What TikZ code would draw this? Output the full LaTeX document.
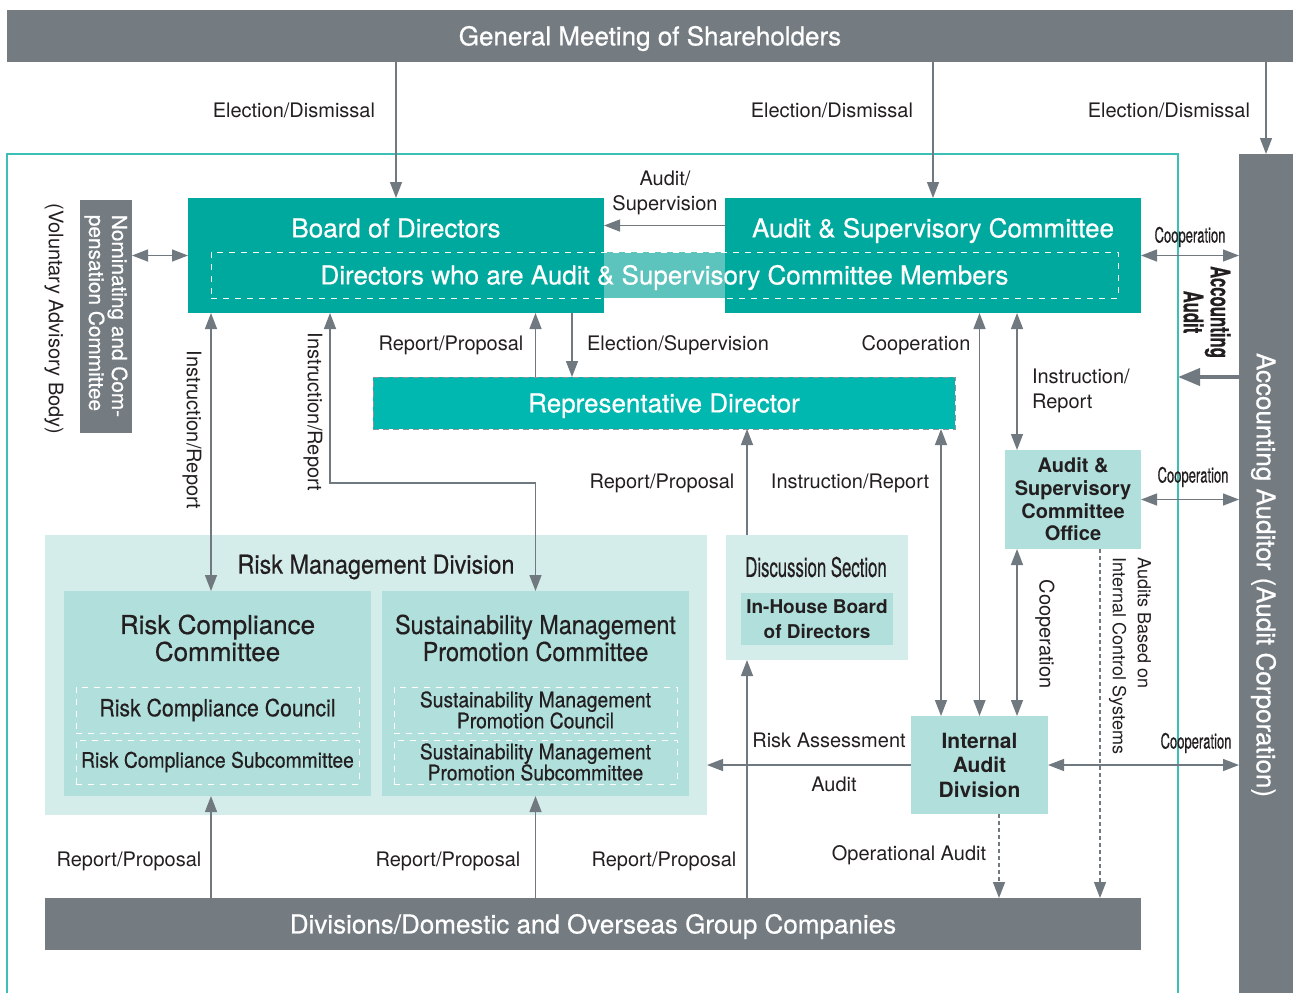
\documentclass[tikz,border=0pt]{standalone}
\usepackage{fontspec}
\setmainfont{TeX Gyre Heros}
\newfontfamily\medfont[FakeBold=0.6]{TeX Gyre Heros}
\newfontfamily\cond[FakeStretch=0.62,FakeBold=0.4]{TeX Gyre Heros}
\newfontfamily\semicond[FakeStretch=0.9,FakeBold=0.5]{TeX Gyre Heros}
\usetikzlibrary{arrows.meta}

\definecolor{boxgray}{RGB}{116,124,130}
\definecolor{linegray}{RGB}{112,121,128}
\definecolor{teal1}{RGB}{0,169,157}
\definecolor{teal2}{RGB}{0,184,176}
\definecolor{teal3}{RGB}{92,196,188}
\definecolor{mint}{RGB}{176,223,220}
\definecolor{palemint}{RGB}{213,237,234}
\definecolor{rim}{RGB}{60,191,181}
\definecolor{ink}{RGB}{35,31,32}

\tikzset{
  box/.style={inner sep=0pt, outer sep=0pt, align=center},
  onerow/.style={text height=9.4pt, text depth=0pt},
  graybox/.style={box, onerow, fill=boxgray, text=white, font=\medfont\fontsize{13}{15.6}\selectfont},
  tealbox/.style={box, fill=teal1},
  repbox/.style={box, onerow, fill=teal2, draw=linegray!80, densely dashed, line width=0.4pt, text=white, font=\medfont\fontsize{13}{15.6}\selectfont},
  mintbox/.style={box, fill=mint, text=ink},
  palebox/.style={box, fill=palemint},
  subbox/.style={box, draw=white, dashed, line width=0.5pt, text=ink, font=\semicond\fontsize{10.7}{10.5}\selectfont},
  whitedash/.style={box, draw=white, dashed, line width=0.5pt, text=white, font=\medfont\fontsize{13}{15.6}\selectfont},
  whitetitle/.style={box, onerow, text=white, font=\medfont\fontsize{13}{15.6}\selectfont},
  rimbox/.style={box, draw=rim, line width=0.75pt},
  lbl/.style={box, text=ink, font=\fontsize{10}{12.5}\selectfont},
  coop/.style={box, text=ink, font=\cond\fontsize{10.5}{12}\selectfont},
  arr/.style={draw=linegray, line width=0.7pt, -{Triangle[length=8pt,width=6pt]}},
  dblarr/.style={arr, {Triangle[length=8pt,width=6pt]}-{Triangle[length=8pt,width=6pt]}},
  dasharr/.style={arr, dash pattern=on 2pt off 1.5pt},
  thickarr/.style={draw=linegray, line width=2pt, -{Triangle[length=11pt,width=8.5pt]}},
}

\begin{document}
\begin{tikzpicture}[x=0.5pt,y=-0.5pt]
\useasboundingbox (0,0) rectangle (1293,992);

\node[rimbox, minimum width=585.5pt, minimum height=425.5pt] (frame) at (592.5,579.5) {};

\node[graybox, minimum width=643pt, minimum height=26pt] (gm) at (650,36) {General Meeting of Shareholders};
\node[graybox, minimum width=27pt, minimum height=425.5pt] (aa) at (1266,579.5) {};
\node[whitetitle, rotate=-90] (aatext) at (1266,575) {Accounting Auditor (Audit Corporation)};

\node[tealbox, minimum width=208pt, minimum height=57.5pt] (board) at (396,255.5) {};
\node[tealbox, minimum width=208pt, minimum height=57.5pt] (asc) at (933,255.5) {};
\node[whitetitle] (boardtext) at (396,228) {Board of Directors};
\node[whitetitle] (asctext) at (933,228) {Audit \& Supervisory Committee};
\fill[teal3] (board.east |- 0,252) rectangle (asc.west |- 0,298);
\node[whitedash, onerow, minimum width=453.5pt, minimum height=23pt] (members) at (664.5,275) {Directors who are Audit \& Supervisory Committee Members};

\node[graybox, minimum width=26pt, minimum height=116.5pt] (nomc) at (106,316.5) {};
\node[box, rotate=-90, align=left, text=white, font=\medfont\fontsize{10.4}{11.5}\selectfont] (nomtext) at (106,316) {Nominating and Com-\\pensation Committee};
\node[lbl, rotate=-90] (advisory) at (54,319) {(Voluntary Advisory Body)};

\node[repbox, minimum width=291pt, minimum height=26pt] (repdir) at (664,403) {Representative Director};

\node[mintbox, minimum width=68pt, minimum height=49.5pt, font=\bfseries\fontsize{10}{11.3}\selectfont] (office) at (1073,499.5) {Audit \&\\Supervisory\\Committee\\Office};

\node[palebox, minimum width=331pt, minimum height=140pt] (rmd) at (376,675) {};
\node[box, text=ink, font=\semicond\fontsize{13}{15}\selectfont] (rmdtext) at (376,567) {Risk Management Division};
\node[mintbox, minimum width=153.5pt, minimum height=102.5pt] (rcc) at (217.5,693.5) {};
\node[box, text=ink, font=\medfont\fontsize{13}{13.5}\selectfont] (rcctext) at (217.5,638) {Risk Compliance\\Committee};
\node[subbox, minimum width=141.5pt, minimum height=23pt, font=\semicond\fontsize{11.8}{12}\selectfont] (rcouncil) at (217.5,710) {Risk Compliance Council};
\node[subbox, minimum width=141.5pt, minimum height=22pt] (rsub) at (217.5,762) {Risk Compliance Subcommittee};
\node[mintbox, minimum width=153.5pt, minimum height=102.5pt] (smpc) at (535.5,693.5) {};
\node[box, text=ink, font=\semicond\fontsize{13}{13.5}\selectfont] (smpctext) at (535.5,638) {Sustainability Management\\Promotion Committee};
\node[subbox, minimum width=141.5pt, minimum height=23pt] (scouncil) at (535.5,710) {Sustainability Management\\Promotion Council};
\node[subbox, minimum width=141.5pt, minimum height=22pt] (ssub) at (535.5,762) {Sustainability Management\\Promotion Subcommittee};

\node[palebox, minimum width=91pt, minimum height=62.5pt] (disc) at (817,597.5) {};
\node[box, text=ink, font=\cond\fontsize{13.5}{15}\selectfont] (disctext) at (816,567) {Discussion Section};
\node[mintbox, minimum width=76pt, minimum height=26pt, font=\bfseries\fontsize{9.5}{12.5}\selectfont] (inhouse) at (817,619) {In-House Board\\of Directors};

\node[mintbox, minimum width=68.5pt, minimum height=49pt, font=\bfseries\fontsize{10.5}{12.25}\selectfont] (iad) at (979.5,765) {Internal\\Audit\\Division};

\node[graybox, minimum width=548pt, minimum height=26pt] (div) at (593,924) {Divisions/Domestic and Overseas Group Companies};

\draw[arr] (gm.south -| board.north) -- (board.north);
\draw[arr] (gm.south -| asc.north) -- (asc.north);
\draw[arr] (gm.south -| aa.north) -- (aa.north);
\node[lbl, anchor=east] (ed1) at (375,110) {Election/Dismissal};
\node[lbl, anchor=east] (ed2) at (913,110) {Election/Dismissal};
\node[lbl, anchor=east] (ed3) at (1250,110) {Election/Dismissal};

\draw[arr] ([yshift=15pt]asc.west) -- ([yshift=15pt]board.east);
\node[lbl] (audsup) at (665,193) {Audit/\\Supervision};
\draw[dblarr] (nomc.east |- board.west) -- (board.west);
\draw[dblarr] (asc.east) -- (asc.east -| aa.west);
\node[coop] (coop1) at (1190,237) {Cooperation};
\draw[thickarr] (aa.west |- repdir.north) -- (frame.east |- repdir.north);
\node[box, rotate=-90, text=ink, font=\cond\bfseries\fontsize{13.5}{13.5}\selectfont] (accaudit) at (1207,312) {Accounting\\Audit};

\draw[arr] (repdir.north -| smpc.north) -- (board.south -| smpc.north);
\draw[arr] (board.south -| 572,0) -- (repdir.north -| 572,0);
\node[lbl] (rp1) at (451,345) {Report/Proposal};
\node[lbl] (elecsup) at (678,345) {Election/Supervision};

\draw[dblarr] (board.south -| 211,0) -- (rcc.north -| 211,0);
\node[lbl, rotate=-90] (instrepv1) at (192,430) {Instruction/Report};
\draw[dblarr] (board.south -| 330,0) -- (330,483) -| (smpc.north);
\node[lbl, rotate=-90] (instrepv2) at (313,412) {Instruction/Report};

\draw[dblarr] (asc.south -| iad.north) -- (iad.north);
\node[lbl] (coop2) at (916,345) {Cooperation};
\draw[dblarr] (asc.south -| 1017,0) -- (office.north -| 1017,0);
\node[lbl, anchor=west, align=left] (instrep1) at (1032,391) {Instruction/\\Report};
\draw[dblarr] (office.south -| 1017,0) -- (iad.north -| 1017,0);
\node[lbl, rotate=-90] (coopv) at (1045,634) {Cooperation};
\draw[dblarr] (office.east) -- (office.east -| aa.west);
\node[coop] (coop3) at (1193,477) {Cooperation};
\draw[dasharr] (office.south -| 1100,0) -- (div.north -| 1100,0);
\node[lbl, rotate=-90, align=left, font=\fontsize{9}{12.5}\selectfont] (icaudit) at (1130,656) {Audits Based on\\Internal Control Systems};

\draw[dblarr] (repdir.south -| 941,0) -- (iad.north -| 941,0);
\node[lbl] (instrep2) at (850,483) {Instruction/Report};
\draw[arr] (disc.north -| 747,0) -- (repdir.south -| 747,0);
\node[lbl] (rp2) at (662,483) {Report/Proposal};

\draw[arr] (iad.west) -- (iad.west -| rmd.east);
\node[lbl] (riskass) at (829,740) {Risk Assessment};
\node[lbl] (auditlbl) at (834,784) {Audit};
\draw[dblarr] (iad.east) -- (iad.east -| aa.west);
\node[coop] (coop4) at (1196,743) {Cooperation};
\draw[dasharr] (iad.south -| 999,0) -- (div.north -| 999,0);
\node[lbl] (opaudit) at (909,855) {Operational Audit};

\draw[arr] (div.north -| 211,0) -- (rcc.south -| 211,0);
\draw[arr] (div.north -| smpc.south) -- (smpc.south);
\draw[arr] (div.north -| 747,0) -- (disc.south -| 747,0);
\node[lbl] (rp3) at (129,861) {Report/Proposal};
\node[lbl] (rp4) at (448,861) {Report/Proposal};
\node[lbl] (rp5) at (664,861) {Report/Proposal};

\end{tikzpicture}
\end{document}
